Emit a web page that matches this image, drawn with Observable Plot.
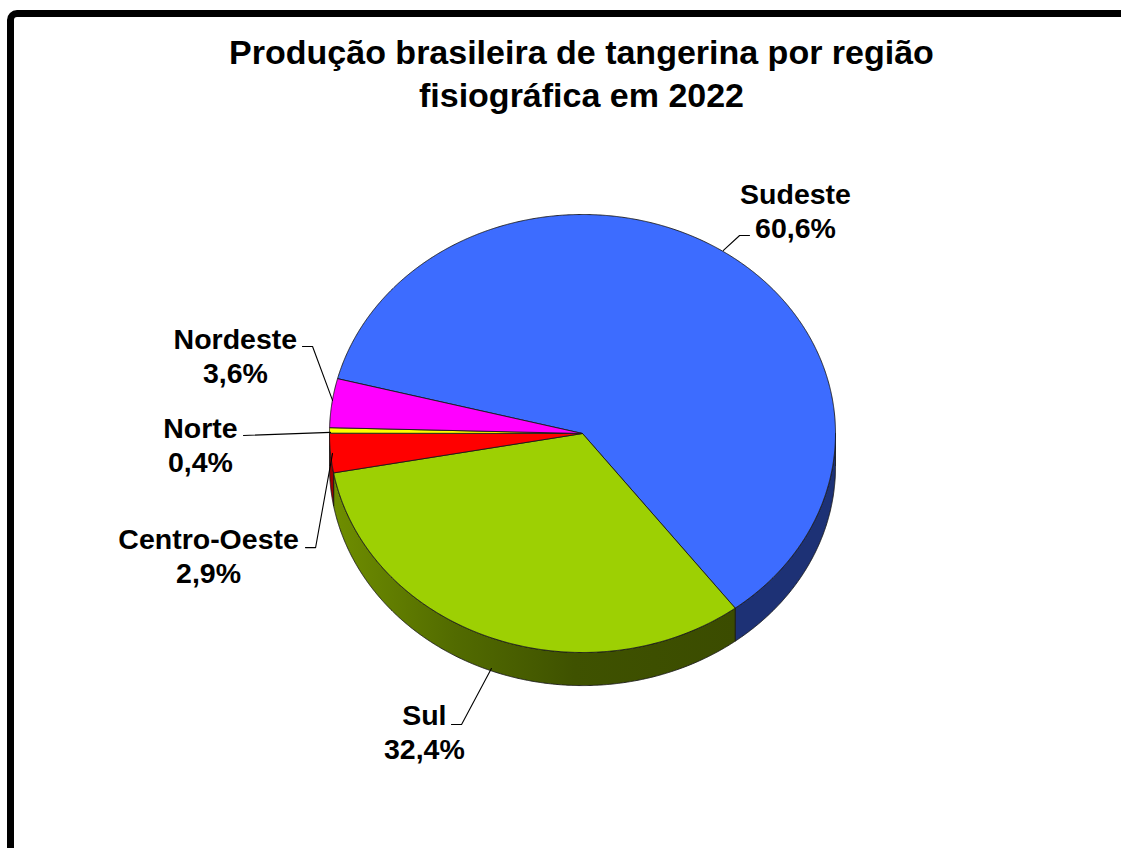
<!DOCTYPE html>
<html>
<head>
<meta charset="utf-8">
<script src="https://cdn.jsdelivr.net/npm/d3@7"></script>
<script src="https://cdn.jsdelivr.net/npm/@observablehq/plot@0.6"></script>
<style>
  body { margin: 0; background: #fff; }
  #page { position: relative; width: 1121px; height: 848px; overflow: hidden; background: #fff; }
  #frame { position: absolute; left: 7px; top: 10px; width: 1250px; height: 1000px; border: 7.5px solid #000; border-radius: 10px; box-sizing: border-box; pointer-events: none; }
  #title { width: 1121px; height: 120px; box-sizing: border-box; padding-top: 31px; padding-left: 42px; text-align: center;
           font-family: "Liberation Sans", Arial, sans-serif; font-weight: bold; font-size: 34px; line-height: 42.5px; color: #000; }
  #chart svg { display: block; }
</style>
</head>
<body>
<div id="page">
  <div id="title">Produção brasileira de tangerina por região<br>fisiográfica em 2022</div>
  <div id="chart"></div>
  <div id="frame"></div>
</div>
<script>
// ---- data ----
const regions = ["Sudeste", "Sul", "Centro-Oeste", "Norte", "Nordeste"];
const shares = [60.6, 32.4, 2.9, 0.4, 3.6];

// ---- styles / layout ----
const topColors = ["#3d6cff", "#9dd003", "#ff0000", "#ffff00", "#ff00ff"];
const sideColors = ["#1d3175", "url(#sulSide)", "#9a0000", "#999900", "#990099"];
const startAngle = 284.5;   // degrees clockwise from 12 o'clock
const depth = 0.151;        // side wall depth in ellipse units
// label block centres in ellipse units
const labelX = [0.842, -0.625, -1.478, -1.510, -1.372];
const labelY = [-1.018, 1.358, 0.555, 0.048, -0.358];
// leader lines (ellipse units)
const leaders = [
  [[0.660, -0.904], [0.621, -0.904], [0.557, -0.836]],
  [[-0.518, 1.329], [-0.478, 1.329], [-0.360, 1.073]],
  [[-1.095, 0.521], [-1.055, 0.521], [-0.988, 0.091]],
  [[-1.340, 0.009], [-0.996, -0.005]],
  [[-1.107, -0.397], [-1.067, -0.397], [-0.988, -0.151]]
];

const total = d3.sum(shares);
const slices = [];
let a = startAngle;
regions.forEach((r, i) => {
  const span = shares[i] / total * 360;
  slices.push({region: r, share: shares[i], a0: a, a1: a + span, i});
  a += span;
});

function arcPts(a0, a1, dy) {
  const pts = [];
  const n = Math.max(2, Math.ceil(Math.abs(a1 - a0) / 0.25));
  for (let k = 0; k <= n; k++) {
    const t = (a0 + (a1 - a0) * k / n) * Math.PI / 180;
    pts.push({x: Math.sin(t), y: -Math.cos(t) + dy});
  }
  return pts;
}

const marks = [];
// side walls (front half: 90..270 degrees)
slices.forEach(s => {
  for (const k of [0, 1]) {
    const lo = Math.max(s.a0, 90 + 360 * k), hi = Math.min(s.a1, 270 + 360 * k);
    if (hi > lo) {
      const pts = [...arcPts(lo, hi, 0), ...arcPts(hi, lo, depth)];
      pts.push(pts[0]);
      marks.push(Plot.line(pts, {x: "x", y: "y", fill: sideColors[s.i], stroke: "#1a1a1a", strokeWidth: 0.9, strokeLinejoin: "round"}));
    }
  }
});
// tops
slices.forEach(s => {
  const pts = [{x: 0, y: 0}, ...arcPts(s.a0, s.a1, 0), {x: 0, y: 0}];
  marks.push(Plot.line(pts, {x: "x", y: "y", fill: topColors[s.i], stroke: "#1a1a1a", strokeWidth: 0.9, strokeLinejoin: "round"}));
});
// leaders
leaders.forEach(L => {
  marks.push(Plot.line(L.map(p => ({x: p[0], y: p[1]})), {x: "x", y: "y", stroke: "#000", strokeWidth: 1.1}));
});
// labels
const labels = slices.map(s => ({
  x: labelX[s.i], y: labelY[s.i],
  text: s.region + "\n" + s.share.toFixed(1).replace(".", ",") + "%"
}));
marks.push(Plot.text(labels, {
  x: "x", y: "y", text: "text", fill: "#000", fontSize: 28.5, fontWeight: "bold",
  fontFamily: "Liberation Sans, Arial, sans-serif", lineHeight: 1.19, textAnchor: "middle"
}));

const svg = Plot.plot({
  width: 1121, height: 728, margin: 0,
  x: {domain: [-1, 1], range: [329, 835], axis: null},
  y: {domain: [-1, 1], range: [94, 532], axis: null},
  style: {background: "transparent", overflow: "visible"},
  marks
});

const defs = d3.select(svg).insert("defs", ":first-child");
const g = defs.append("linearGradient").attr("id", "sulSide").attr("x1", 0).attr("x2", 1).attr("y1", 0).attr("y2", 0);
g.append("stop").attr("offset", "0%").attr("stop-color", "#6f8e00");
g.append("stop").attr("offset", "30%").attr("stop-color", "#526b00");
g.append("stop").attr("offset", "60%").attr("stop-color", "#3f5200");
g.append("stop").attr("offset", "100%").attr("stop-color", "#3b4c00");

document.getElementById("chart").appendChild(svg);
</script>
</body>
</html>
